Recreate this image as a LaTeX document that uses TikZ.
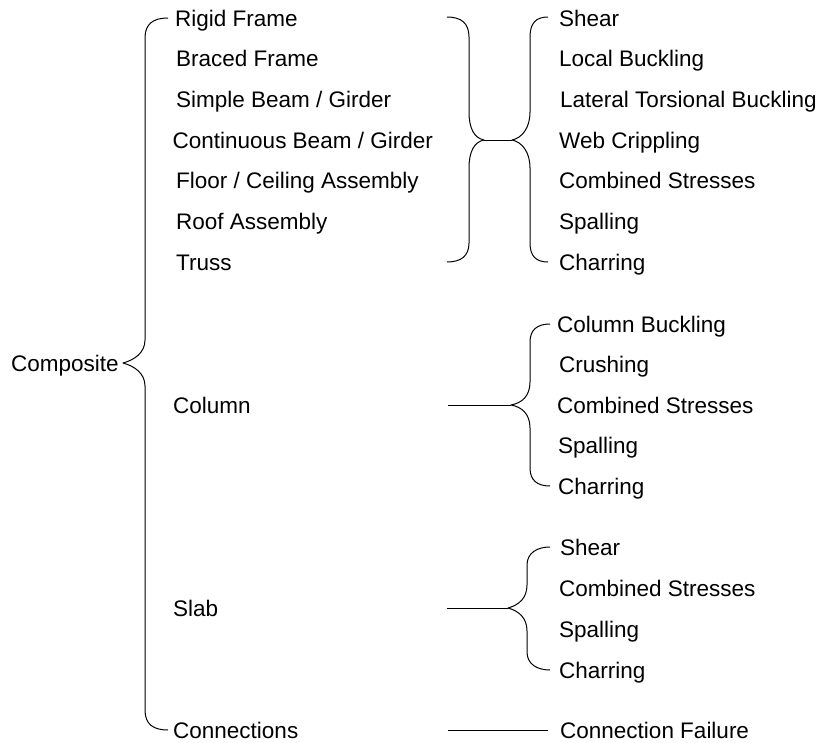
\documentclass[tikz,border=0pt]{standalone}
\usepackage{fontspec}
\setmainfont{Liberation Sans}
\begin{document}
\begin{tikzpicture}[x=1pt,y=-1pt,
  lbl/.style={anchor=west,inner sep=0pt,text height=16pt,text depth=0pt,
              font=\fontsize{22.5}{26}\selectfont},
  link/.style={draw=black,line width=1pt,line join=round}]
\useasboundingbox (0,0) rectangle (824,742);

% root
\node[lbl] (comp) at (11,363) {Composite};

% member types
\node[lbl] (rf)   at (175,18)    {Rigid Frame};
\node[lbl] (bf)   at (176,58.7)  {Braced Frame};
\node[lbl] (sb)   at (176,99.3)  {Simple Beam / Girder};
\node[lbl] (cb)   at (172.5,140) {Continuous Beam / Girder};
\node[lbl] (fc)   at (176,180.7) {Floor / Ceiling Assembly};
\node[lbl] (ra)   at (176,221.3) {Roof Assembly};
\node[lbl] (tr)   at (176,262)   {Truss};
\node[lbl] (col)  at (173,405)   {Column};
\node[lbl] (slab) at (173,608)   {Slab};
\node[lbl] (conn) at (173,730)   {Connections};

% failure modes: framing members
\node[lbl] (sh1)  at (559,18)    {Shear};
\node[lbl] (lb)   at (559,58.7)  {Local Buckling};
\node[lbl] (ltb)  at (560,99.3)  {Lateral Torsional Buckling};
\node[lbl] (wc)   at (559,140)   {Web Crippling};
\node[lbl] (cs1)  at (559,180.7) {Combined Stresses};
\node[lbl] (sp1)  at (559,221.3) {Spalling};
\node[lbl] (ch1)  at (559,262)   {Charring};

% failure modes: column
\node[lbl] (cbk)  at (557,324)   {Column Buckling};
\node[lbl] (cr)   at (559,364.5) {Crushing};
\node[lbl] (cs2)  at (557,405)   {Combined Stresses};
\node[lbl] (sp2)  at (558,445.5) {Spalling};
\node[lbl] (ch2)  at (558,486)   {Charring};

% failure modes: slab
\node[lbl] (sh2)  at (560,547)   {Shear};
\node[lbl] (cs3)  at (559,588)   {Combined Stresses};
\node[lbl] (sp3)  at (559,629)   {Spalling};
\node[lbl] (ch3)  at (559,670)   {Charring};

% failure mode: connections
\node[lbl] (cf)   at (560,730)   {Connection Failure};

% brace tips
\coordinate (bT) at (168,18);
\coordinate (bM) at (123,363);
\coordinate (bB) at (168,730);
\coordinate (hLT) at (447,17);
\coordinate (hLB) at (447,262);
\coordinate (hML) at (484,140);
\coordinate (hMR) at (512,140);
\coordinate (hRT) at (548,17);
\coordinate (hRB) at (548,262);
\coordinate (cL) at (448,405);
\coordinate (cM) at (511,405);
\coordinate (cT) at (550,324);
\coordinate (cB) at (550,486);
\coordinate (sL) at (447,608);
\coordinate (sM) at (508,608);
\coordinate (sT) at (550,547);
\coordinate (sB) at (550,670);
\coordinate (kL) at (448,730);

% main brace: Composite -> member types
\draw[link] (bT) .. controls (153,18) and (145,24) .. (145,38) -- (145,340)
  .. controls (145,353) and (134,360) .. (bM)
  .. controls (134,366) and (145,373) .. (145,386) -- (145,710)
  .. controls (145,724) and (153,730) .. (bB);

% double brace: framing members -> failure modes
\draw[link] (hLT) .. controls (461,17) and (469,23) .. (469,37) -- (469,112)
  .. controls (469,128) and (474,138) .. (hML)
  .. controls (474,142) and (469,152) .. (469,168) -- (469,243)
  .. controls (469,256) and (461,262) .. (hLB);
\draw[link] (hML) -- (hMR);
\draw[link] (hRT) .. controls (536,17) and (530,23) .. (530,37) -- (530,112)
  .. controls (530,128) and (522,138) .. (hMR)
  .. controls (522,142) and (530,152) .. (530,168) -- (530,243)
  .. controls (530,256) and (536,262) .. (hRB);

% column
\draw[link] (cL) -- (cM);
\draw[link] (cT) .. controls (537,324) and (530,330) .. (530,342) -- (530,382)
  .. controls (530,396) and (522,403) .. (cM)
  .. controls (522,407) and (530,414) .. (530,428) -- (530,468)
  .. controls (530,480) and (537,486) .. (cB);

% slab
\draw[link] (sL) -- (sM);
\draw[link] (sT) .. controls (537,547) and (527,553) .. (527,565) -- (527,585)
  .. controls (527,598) and (519,605) .. (sM)
  .. controls (519,611) and (527,618) .. (527,631) -- (527,652)
  .. controls (527,664) and (537,670) .. (sB);

% connections
\draw[link] (kL) -- ([xshift=-12pt]cf.west);
\end{tikzpicture}
\end{document}
